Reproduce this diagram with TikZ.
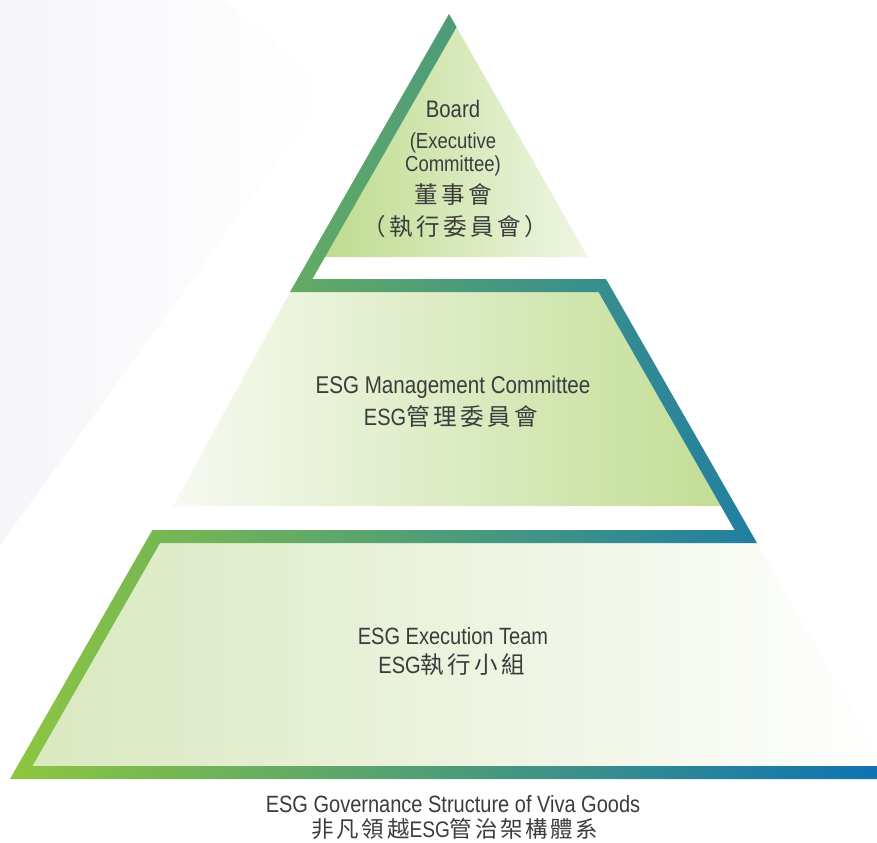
\documentclass[tikz,border=0pt]{standalone}
\usepackage{fontspec}
\setmainfont{Liberation Sans}[FakeStretch=0.85]
\newfontfamily\cjk{Noto Sans CJK TC}[LetterSpace=15]
\usepackage{xcolor}
\usepackage{tikz}
\usetikzlibrary{positioning}
\definecolor{bandgreen}{RGB}{141, 198, 63}
\definecolor{bandblue}{RGB}{15, 115, 178}
\definecolor{topleft}{RGB}{188, 218, 138}
\definecolor{topright}{RGB}{239, 246, 228}
\definecolor{midleft}{RGB}{247, 250, 241}
\definecolor{midright}{RGB}{194, 222, 150}
\definecolor{lowleft}{RGB}{216, 232, 190}
\definecolor{lowmid}{RGB}{241, 247, 231}
\definecolor{bgtint}{RGB}{246, 246, 250}
\definecolor{txtgray}{RGB}{60, 60, 60}

\tikzset{
    lbl/.style={anchor=base, inner sep=0pt, text=txtgray},
    big/.style={font=\fontsize{13.4}{16}\selectfont},
    small/.style={font=\fontsize{12.4}{15}\selectfont}
}

\begin{document}
\begin{tikzpicture}[x=0.02cm, y=-0.02cm]
    \useasboundingbox (0,0) rectangle (877,843);
    \clip (0,0) rectangle (877,843);

    % faint background
    \shade[left color=bgtint, right color=white] (0,0) -- (225,0) -- (330,90) -- (0,545) -- cycle;

    % Level fills
    \shade[left color=topleft, right color=topright] (449,14) -- (588,257) -- (310,257) -- cycle;
    \shade[left color=midleft, right color=midright] (294,285) -- (594,285) -- (721,506) -- (173,506) -- cycle;
    \shade[left color=lowleft, middle color=lowmid, right color=white] (149,536) -- (753,536) -- (888,772) -- (14,772) -- cycle;

    % Zigzag frame
    \shade[left color=bandgreen, right color=bandblue]
        (449,14) -- (290,292) -- (598.4,292) -- (734.6,530) -- (152.4,530)
        -- (10,779) -- (877,779) -- (877,766) -- (32.4,766) -- (160,543)
        -- (757,543) -- (606,279) -- (312.4,279) -- (456.5,27.1) -- cycle;

    % Board
    \node[lbl, font=\fontsize{13.6}{16}\selectfont] (board) at (453,117) {Board};
    \node[lbl, small] (boardsub) at (453,148) {(Executive};
    \node[lbl, small] (boardsub2) at (453,171) {Committee)};
    \node[lbl, big] (boardcn) at (453,203) {\cjk 董事會};
    \node[lbl, big] (boardcn2) at (455,235) {\cjk （執行委員會）};

    % Management
    \node[lbl, font=\fontsize{13.8}{16}\selectfont] (mgmt) at (453,393) {ESG Management Committee};
    \node[lbl, big] (mgmtcn) at (451,425) {ESG{\cjk 管理委員會}};

    % Execution
    \node[lbl, big] (exec) at (453,644) {ESG Execution Team};
    \node[lbl, big] (execcn) at (452,673) {ESG{\cjk 執行小組}};

    % Caption
    \node[lbl, big] (caption) at (453,812) {ESG Governance Structure of Viva Goods};
    \node[lbl, font=\fontsize{12.8}{15}\selectfont] (captioncn) at (455,837) {\cjk\addfontfeature{LetterSpace=12}非凡領越{\rmfamily ESG}管治架構體系};
\end{tikzpicture}
\end{document}
